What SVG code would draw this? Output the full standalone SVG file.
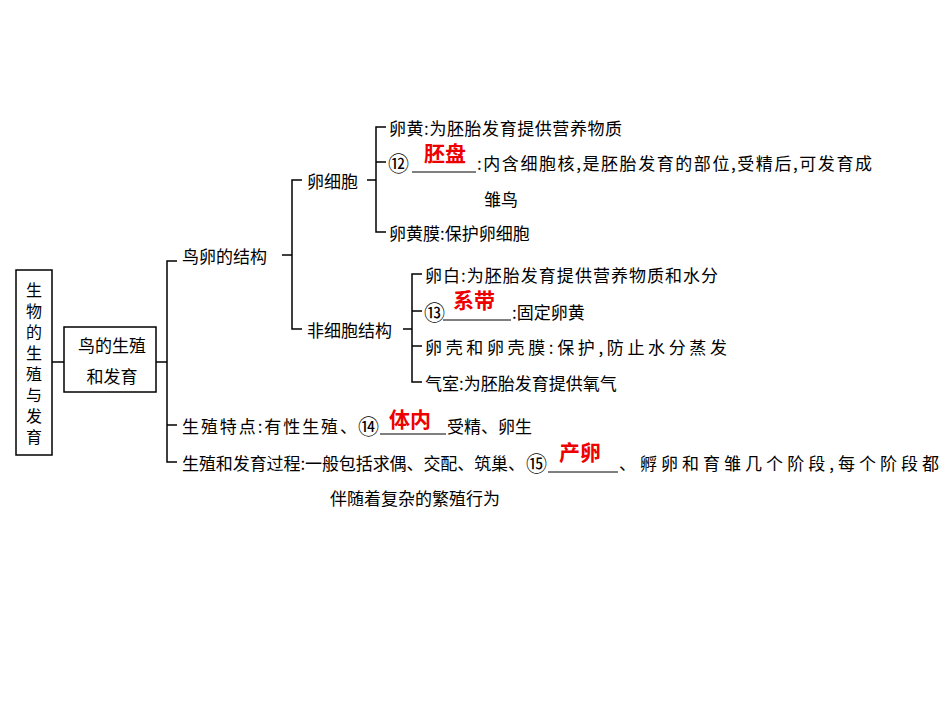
<svg xmlns="http://www.w3.org/2000/svg" width="950" height="713" viewBox="0 0 950 713">
<style>
text{font-family:"Noto Sans CJK SC",sans-serif;font-size:17px;fill:#000;dominant-baseline:central}
.v{font-size:16px;writing-mode:vertical-rl;letter-spacing:5px}
.n{font-size:21px}
.r{fill:#e00;font-size:21px;font-weight:bold}
.l{stroke:#000;stroke-width:1.5;fill:none}
.u{stroke:#000;stroke-width:1;fill:none}
</style>
<rect width="950" height="713" fill="#fff"/>
<g id="connectors">
<path class="l" d="M52 362H64M156 362H167M177 261H167V462H177M167 425H177M282 255H292M302 180H292V329H302M367 180H376M386 127H376V232H386M376 162H386M403 329H412M422 274H412V382H422M412 311H422M412 346H422"/>
</g>
<g id="root"><rect x="16" y="270" width="36" height="185" class="l"/>
<text class="v" x="34" y="282">生物的生殖与发育</text></g>
<g id="bird"><rect x="64" y="327" width="92" height="65" class="l"/>
<text x="112" y="344" text-anchor="middle">鸟的生殖</text><text x="112" y="375" text-anchor="middle">和发育</text></g>
<g id="structure"><text x="182" y="255">鸟卵的结构</text></g>
<g id="cell"><text x="307" y="180">卵细胞</text></g>
<g id="yolk"><text x="389" y="127" textLength="233">卵黄:为胚胎发育提供营养物质</text></g>
<g id="disc"><text class="n" x="388" y="162">⑫</text><line class="u" x1="412" y1="172" x2="476" y2="172"/><text class="r" x="424" y="152">胚盘</text>
<text x="477" y="162" textLength="395">:内含细胞核,是胚胎发育的部位,受精后,可发育成</text><text x="484" y="198">雏鸟</text></g>
<g id="membrane"><text x="389" y="232">卵黄膜:保护卵细胞</text></g>
<g id="noncell"><text x="307" y="329">非细胞结构</text></g>
<g id="white"><text x="425" y="274" textLength="293">卵白:为胚胎发育提供营养物质和水分</text></g>
<g id="chalaza"><text class="n" x="424" y="311">⑬</text><line class="u" x1="443" y1="320" x2="511" y2="320"/><text class="r" x="453" y="299">系带</text><text x="512" y="311">:固定卵黄</text></g>
<g id="shell"><text x="425" y="346" textLength="302">卵壳和卵壳膜:保护,防止水分蒸发</text></g>
<g id="air"><text x="425" y="382">气室:为胚胎发育提供氧气</text></g>
<g id="feature"><text x="182" y="425" textLength="175">生殖特点:有性生殖、</text><text class="n" x="358" y="425">⑭</text><line class="u" x1="380" y1="434" x2="446" y2="434"/><text class="r" x="389" y="418">体内</text><text x="447" y="425">受精、卵生</text></g>
<g id="process"><text x="182" y="462" textLength="343">生殖和发育过程:一般包括求偶、交配、筑巢、</text><text class="n" x="526" y="462">⑮</text><line class="u" x1="548" y1="472" x2="618" y2="472"/><text class="r" x="559" y="451">产卵</text>
<text x="619" y="462" textLength="320">、孵卵和育雏几个阶段,每个阶段都</text><text x="330" y="497">伴随着复杂的繁殖行为</text></g>
</svg>
